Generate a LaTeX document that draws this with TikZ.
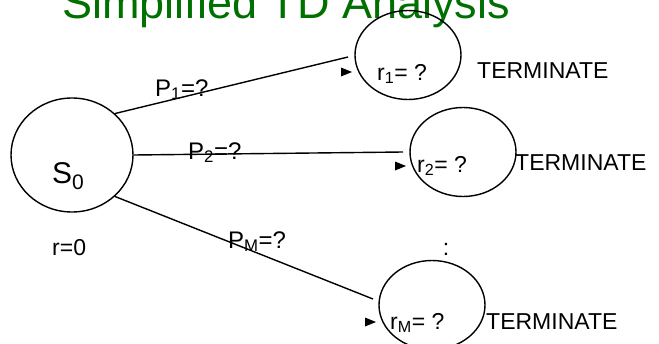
\documentclass[tikz,border=0pt]{standalone}
\usepackage{fontspec}
\setmainfont{Liberation Sans}
\usepackage{xcolor}
\usetikzlibrary{arrows.meta,calc,shapes.geometric}
\definecolor{titlegreen}{RGB}{0,112,0}

\begin{document}
\begin{tikzpicture}[x=1pt, y=-1pt,
    every node/.style={font=\fontsize{23}{23}\selectfont, inner sep=0pt},
    state/.style={ellipse, draw, line width=1.4pt, minimum width=106pt, minimum height=89pt},
    edge/.style={line width=1.4pt}]
  \useasboundingbox (0,0) rectangle (659,343);
  \node[anchor=base west, text=titlegreen, font=\fontsize{45}{45}\selectfont] (title) at (62,18) {Simplified TD Analysis};
  \node[state, minimum width=122pt, minimum height=114pt] (s0) at (72,155) {};
  \node[state] (r1) at (408,55) {};
  \node[state] (r2) at (463,152) {};
  \node[state] (rm) at (432,305) {};
  \coordinate (e1) at (348,57);
  \coordinate (e2) at (403,152);
  \coordinate (em) at (373,299);
  \draw[edge] (s0.44) -- (e1);
  \draw[edge] (s0.east) -- (e2);
  \draw[edge] (s0.-44) -- (em);
  \fill (352,72) -- ++(-11,-4.5) -- ++(0,9) -- cycle;
  \fill (406,166) -- ++(-11,-4.5) -- ++(0,9) -- cycle;
  \fill (376,322) -- ++(-11,-4.5) -- ++(0,9) -- cycle;
  \node[anchor=base west, font=\fontsize{30}{30}\selectfont] (s0lab) at (52,183) {S\textsubscript{0}};
  \node[anchor=base west] (rew) at (52,255) {r=0};
  \node[anchor=base west, font=\fontsize{24}{24}\selectfont] (p1) at (155,96) {P\textsubscript{1}=?};
  \node[anchor=base west, font=\fontsize{24}{24}\selectfont] (p2) at (188,159) {P\textsubscript{2}=?};
  \node[anchor=base west, font=\fontsize{24}{24}\selectfont] (pm) at (228,248) {P\textsubscript{M}=?};
  \node[anchor=base west] (r1lab) at (377,80) {r\textsubscript{1}= ?};
  \node[anchor=base west] (r2lab) at (417,172) {r\textsubscript{2}= ?};
  \node[anchor=base west] (rmlab) at (390,329) {r\textsubscript{M}= ?};
  \node[anchor=base west] (t1) at (477,78) {TERMINATE};
  \node[anchor=base west] (t2) at (515,170) {TERMINATE};
  \node[anchor=base west] (tm) at (486,329) {TERMINATE};
  \node[anchor=base] (dots) at (446,255) {:};
\end{tikzpicture}
\end{document}
